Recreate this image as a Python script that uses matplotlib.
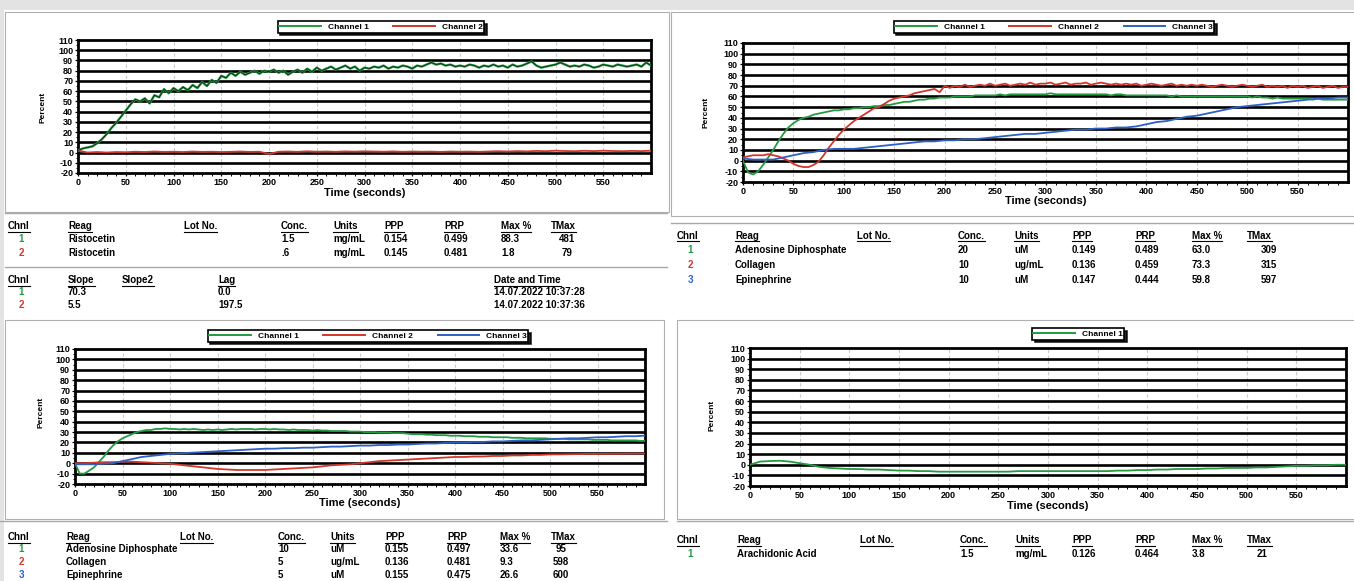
import numpy as np
import matplotlib
matplotlib.use("Agg")
import matplotlib.pyplot as plt
from matplotlib.lines import Line2D
from matplotlib.patches import Rectangle

W, H = 1354, 581

# ---------------- data ----------------
T5 = np.arange(0, 601, 5)
T10 = np.arange(0, 601, 10)

# Panel A (top-left): Ristocetin
a_ch1 = [2, 4, 5, 6, 9, 13, 18, 24, 29, 35, 41, 47, 52, 50, 53, 48, 56, 54, 62, 58, 63,
         60, 64, 61, 66, 63, 69, 65, 71, 68, 75, 73, 78, 75, 79, 76, 78, 80, 77, 80, 79,
         81, 78, 80, 76, 79, 81, 78, 82, 79, 83, 80, 82, 84, 81, 83, 85, 82, 84, 80, 83,
         82, 84, 83, 85, 82, 84, 83, 85, 84, 82, 85, 84, 86, 88, 86, 87, 85, 86, 84, 85,
         84, 86, 85, 83, 85, 84, 86, 84, 85, 83, 86, 84, 85, 87, 89, 85, 83, 84, 85, 86,
         88, 86, 84, 85, 84, 86, 85, 83, 84, 86, 85, 84, 86, 85, 84, 85, 86, 84, 88, 85]
a_ch2 = [2, 0, 0.5, 0, 0.5, 0.3, 0.8, 0.5, 1, 0.6, 0.8,
         0.5, 1, 0.6, 0.8, 0.5, 0.7, 1, 0.6, 0.8, -1.5,
         0.8, 1, 0.7, 1.2, 0.8, 1, 0.7, 1.1, 0.9, 1.2,
         1, 0.8, 1.1, 0.7, 1, 0.8, 0.9, 0.6, 1, 0.8,
         0.9, 0.7, 1, 1.3, 1, 1.4, 1.1, 1.6, 1.3, 1.8,
         1.5, 1.3, 1.7, 1.4, 1.8, 1.5, 1.3, 1.6, 1.4, 1.8]

# Panel B (top-right)
b_ch1 = [0, -11, -13, -10, -4, 3, 10, 18, 25, 31, 35, 38, 40, 41, 43, 44, 45, 46, 47, 47, 48,
         48, 49, 49, 50, 50, 51, 51, 52, 52, 53, 54, 55, 55, 56, 57, 57, 58, 58, 59, 59,
         59, 60, 60, 60, 60, 61, 61, 61, 61, 61, 62, 61, 62, 62, 62, 62, 62, 62, 62, 62,
         63, 62, 62, 62, 62, 62, 62, 62, 62, 62, 62, 62, 61, 62, 62, 61, 61, 61, 61, 61,
         61, 61, 61, 61, 60, 61, 60, 60, 60, 60, 60, 60, 60, 60, 60, 60, 60, 60, 60, 60,
         59, 60, 59, 59, 58, 59, 58, 58, 58, 58, 58, 58, 57, 58, 57, 57, 57, 57, 57, 57]
b_ch2 = [3, 4, 5, 5, 5, 6, 5, 4, 2, 0, -3, -5, -6, -6, -4, -1, 5, 12, 18, 24, 29,
         33, 37, 40, 43, 46, 49, 50, 53, 56, 58, 59, 60, 61, 63, 64, 65, 66, 67, 64, 70,
         68, 70, 69, 71, 69, 70, 71, 70, 72, 70, 71, 72, 70, 71, 72, 71, 73, 71, 72, 72,
         73, 71, 72, 73, 71, 72, 72, 73, 71, 72, 73, 72, 71, 72, 71, 72, 71, 72, 70, 71,
         72, 71, 70, 71, 72, 70, 71, 70, 71, 70, 71, 70, 69, 70, 71, 70, 69, 70, 71, 70,
         69, 70, 71, 69, 70, 69, 70, 68, 70, 69, 70, 68, 69, 70, 68, 69, 70, 68, 69, 69]
b_ch3 = [2, 1, 1, 1, 3, 5, 7, 8, 10, 11, 11,
         11, 12, 13, 14, 15, 16, 17, 18, 18, 19,
         19, 20, 20, 21, 22, 23, 24, 25, 25, 26,
         27, 28, 29, 29, 30, 30, 31, 31, 32, 34,
         36, 37, 39, 41, 42, 44, 46, 48, 50, 51,
         52, 53, 54, 55, 56, 57, 58, 58, 59, 59]

# Panel C (bottom-left)
c_ch1 = [0, -10, -10, -7, -4, 1, 6, 12, 17, 21, 24, 26, 28, 30, 31, 32, 32, 33, 33, 33.6, 33,
         33, 32.5, 33, 32.5, 33, 32.5, 32, 32.5, 32, 32.5, 32, 32.5, 33, 32.5, 33, 33, 33, 32.5, 33, 33,
         32.5, 33, 32.5, 32.5, 32, 32.5, 32, 32, 32, 31.5, 32, 31.5, 31.5, 31, 31, 31, 31, 30.5, 30.5, 30.5,
         30, 30, 30, 29.5, 29.5, 29.5, 29, 29, 29, 28.5, 28, 28, 28, 27.5, 27.5, 27, 27, 27, 26.5, 26.5,
         26.5, 26, 26, 26, 25.5, 25.5, 25.5, 25, 25, 25, 25, 24.5, 24.5, 24.5, 24, 24, 24, 24, 24, 23.5,
         23.5, 23.5, 23.5, 23, 23, 23, 23, 23, 22.5, 22.5, 22.5, 22.5, 22, 22, 22, 22, 22, 22, 21.5, 21.5]
c_ch2 = [0, 0, 0.5, 1, 1, 1.5, 1.5, 1, 0.5, 0, -0.5,
         -1.5, -2.5, -3.5, -4.5, -5.5, -6, -6.5, -6.5, -6.5, -6.5,
         -6, -5.5, -5, -4.5, -4, -3, -2, -1.5, -1, 0,
         1, 2, 2.5, 3, 3.5, 4, 4.5, 5, 5.5, 6,
         6, 6.5, 6.5, 7, 7, 7.5, 7.5, 8, 8, 8.5,
         8.5, 8.7, 8.8, 9, 9, 9.1, 9.1, 9.2, 9.3, 9.3]
c_ch3 = [-1, -1, -1, -0.5, 0, 2, 4, 6, 7, 8, 9,
         9.5, 10, 10.5, 11, 11.5, 12, 12.5, 13, 13.5, 14,
         14, 14.5, 14.5, 15, 15, 15.5, 16, 16, 16.5, 17,
         17, 17.5, 17.5, 18, 18, 18.5, 19, 19, 19.5, 20,
         20, 20.5, 20.5, 21, 21, 21.5, 22, 22, 22.5, 23,
         23.5, 24, 24, 24.5, 25, 25, 25.5, 26, 26, 26.6]

# Panel D (bottom-right)
d_ch1 = [0, 3, 3.5, 3.8, 3, 1.5, 0, -2, -3, -3.5, -4,
         -4, -4.5, -4.5, -5, -5.5, -5.5, -6, -6, -6.5, -6.5,
         -6.5, -6.5, -6.5, -6.5, -6.5, -6.5, -6, -6, -6, -6,
         -6, -6, -6, -6, -6, -6, -5.5, -5.5, -5, -5,
         -4.5, -4.5, -4, -4, -4, -3.5, -3.5, -3, -3, -3,
         -2.5, -2.5, -2, -1.5, -1, -1, -0.5, -0.5, 0, 0]

channel_labels = ["Channel 1", "Channel 2", "Channel 3"]
yticks = list(range(-20, 111, 10))
xticks = list(range(0, 551, 50))

headers = ["Chnl", "Reag", "Lot No.", "Conc.", "Units", "PPP", "PRP", "Max %", "TMax"]

a_chnl = ["1", "2"]
a_reag = ["Ristocetin", "Ristocetin"]
a_conc = ["1.5", ".6"]
a_units = ["mg/mL", "mg/mL"]
a_ppp = ["0.154", "0.145"]
a_prp = ["0.499", "0.481"]
a_max = ["88.3", "1.8"]
a_tmax = ["481", "79"]
a_headers2 = ["Chnl", "Slope", "Slope2", "Lag", "Date and Time"]
a_slope = ["70.3", "5.5"]
a_lag = ["0.0", "197.5"]
a_dt = ["14.07.2022 10:37:28", "14.07.2022 10:37:36"]

b_chnl = ["1", "2", "3"]
b_reag = ["Adenosine Diphosphate", "Collagen", "Epinephrine"]
b_conc = ["20", "10", "10"]
b_units = ["uM", "ug/mL", "uM"]
b_ppp = ["0.149", "0.136", "0.147"]
b_prp = ["0.489", "0.459", "0.444"]
b_max = ["63.0", "73.3", "59.8"]
b_tmax = ["309", "315", "597"]

c_chnl = ["1", "2", "3"]
c_reag = ["Adenosine Diphosphate", "Collagen", "Epinephrine"]
c_conc = ["10", "5", "5"]
c_units = ["uM", "ug/mL", "uM"]
c_ppp = ["0.155", "0.136", "0.155"]
c_prp = ["0.497", "0.481", "0.475"]
c_max = ["33.6", "9.3", "26.6"]
c_tmax = ["95", "598", "600"]

d_chnl = ["1"]
d_reag = ["Arachidonic Acid"]
d_conc = ["1.5"]
d_units = ["mg/mL"]
d_ppp = ["0.126"]
d_prp = ["0.464"]
d_max = ["3.8"]
d_tmax = ["21"]

# ---------------- styling ----------------
GREEN = "#239a40"
RED = "#d0362b"
BLUE = "#2d5fc4"
CH_COLORS = [GREEN, RED, BLUE]
SANS = ["Liberation Sans", "DejaVu Sans"]
TICKFONT = dict(family=SANS, weight="bold", size=6.5)
TABFONT = ["Liberation Sans Narrow", "Liberation Sans", "DejaVu Sans"]

fig = plt.figure(figsize=(W / 100, H / 100), dpi=100)
fig.patch.set_facecolor("white")


def fx(x):
    return x / W


def fy(y):
    return 1 - y / H


def rect(x0, y0, x1, y1, fc="white", ec="#b0b0b0", lw=0.8):
    fig.add_artist(Rectangle((fx(x0), fy(y1)), fx(x1) - fx(x0), fy(y0) - fy(y1),
                             transform=fig.transFigure, facecolor=fc, edgecolor=ec, lw=lw,
                             zorder=-10))


def hline(x0, x1, y, color="#a8a8a8", lw=1.0):
    fig.add_artist(Line2D([fx(x0), fx(x1)], [fy(y), fy(y)], transform=fig.transFigure,
                          color=color, lw=lw, zorder=-9))


# background bands
rect(0, 0, W, 10, fc="#e3e3e3", ec="none")
rect(0, 0, 4, H, fc="#e3e3e3", ec="none")
# chart boxes
rect(5, 12, 669, 212)
rect(671, 12, W + 2, 216)
rect(5, 320, 664, 519)
rect(677, 320, W + 2, 519)
# table separators
hline(5, 667, 213)
hline(5, 667, 267)
hline(671, W, 223)
hline(0, 667, 521)
hline(677, W, 521)


def make_chart(box, series, legend_xy, pct_xy, time_y, noisy=False):
    l, r, t, b = box
    ax = fig.add_axes([fx(l), fy(b), fx(r) - fx(l), fy(t) - fy(b)])
    ax.set_zorder(1)
    ax.set_xlim(0, 600)
    ax.set_ylim(-20, 110)
    for yv in range(-10, 101, 10):
        ax.axhline(yv, color="black", lw=1.9, zorder=1)
    for xv in xticks[1:]:
        ax.axvline(xv, color="#cccccc", lw=0.8, ls=(0, (3, 2)), zorder=0.5)
    handles = []
    for i, (tt, vals) in enumerate(series):
        c = CH_COLORS[i]
        if noisy and i == 0:
            ax.plot(tt, vals, color=c, lw=1.7, zorder=3)
            ax.plot(tt, vals, color="#0f2a12", lw=0.6, zorder=3.5)
        else:
            ax.plot(tt, vals, color=c, lw=1.3, zorder=3)
        handles.append(Line2D([], [], color=c, lw=1.4))
    for s in ax.spines.values():
        s.set_linewidth(2.0)
        s.set_color("black")
    ax.set_yticks(yticks)
    ax.set_yticklabels([str(v) for v in yticks], **TICKFONT)
    ax.set_xticks(xticks)
    ax.set_xticklabels([str(v) for v in xticks], **TICKFONT)
    ax.set_xticks(range(0, 600, 10), minor=True)
    ax.set_yticks(range(-20, 111, 5), minor=True)
    ax.tick_params(which="major", length=2.5, width=0.9, pad=1.0, color="black")
    ax.tick_params(which="minor", length=1.8, width=0.7, color="black")
    leg = ax.legend(handles, channel_labels[:len(series)], loc="center",
                    bbox_to_anchor=(fx(legend_xy[0]), fy(legend_xy[1])),
                    bbox_transform=fig.transFigure, ncol=len(series), frameon=True,
                    fancybox=False, shadow={"color": "black", "alpha": 0.85},
                    edgecolor="black", borderpad=0.2,
                    handlelength=5.0, handletextpad=0.8, columnspacing=3.0,
                    prop=dict(family=SANS, weight="bold", size=6))
    leg.get_frame().set_linewidth(1.2)
    fig.text(fx(pct_xy[0]), fy(pct_xy[1]), "Percent", rotation=90, ha="center", va="center",
             family=SANS, weight="bold", size=6)
    fig.text(fx((l + r) / 2), fy(time_y), "Time (seconds)", ha="center", va="center",
             family=SANS, weight="bold", size=8)
    return ax


make_chart((78, 651, 40, 173), [(T5, a_ch1), (T10, a_ch2)], (381, 27), (43, 107), 193, noisy=True)
make_chart((743, 1348, 43, 182), [(T5, b_ch1), (T5, b_ch2), (T10, b_ch3)], (1054, 27), (706, 112), 201)
make_chart((75, 645, 349, 484), [(T5, c_ch1), (T10, c_ch2), (T10, c_ch3)], (368, 336), (41, 412), 503)
make_chart((750, 1346, 348, 486), [(T10, d_ch1)], (1078, 334), (712, 415), 506)

renderer = fig.canvas.get_renderer()


def ftext(x, y, s, ha="left", color="black", underline=False, size=7):
    t = fig.text(fx(x), fy(y), s, ha=ha, va="center", family=TABFONT, weight="bold",
                 size=size, color=color)
    if underline:
        bb = t.get_window_extent(renderer)
        fig.add_artist(Line2D([bb.x0 / W, bb.x1 / W], [(bb.y0 - 0.5) / H, (bb.y0 - 0.5) / H],
                              transform=fig.transFigure, color=color, lw=0.8))
    return t


def table(xs, chx, y_head, y_rows, cols, tmax_x, tmax_ha, chnl):
    for hx, h in zip(xs, headers):
        ftext(hx, y_head, h, underline=True)
    for ri, yrow in enumerate(y_rows):
        ftext(chx, yrow, chnl[ri], ha="center", color=CH_COLORS[int(chnl[ri]) - 1])
        vals = [c[ri] for c in cols]
        for xpos, v in zip([xs[1], xs[3], xs[4], xs[5], xs[6], xs[7]], vals[:6]):
            ftext(xpos, yrow, v)
        ftext(tmax_x, yrow, vals[6], ha=tmax_ha)


table([8, 68, 184, 281, 333, 384, 444, 501, 551], 21, 226, [239, 253],
      [a_reag, a_conc, a_units, a_ppp, a_prp, a_max, a_tmax], 567, "center", a_chnl)
for hx, h in zip([8, 68, 122, 218, 494], a_headers2):
    ftext(hx, 280, h, underline=True)
for ri, yrow in enumerate([292, 305]):
    ftext(21, yrow, a_chnl[ri], ha="center", color=CH_COLORS[ri])
    ftext(68, yrow, a_slope[ri])
    ftext(218, yrow, a_lag[ri])
    ftext(494, yrow, a_dt[ri])

table([677, 735, 857, 958, 1014, 1072, 1135, 1192, 1247], 690, 236, [250, 265, 280],
      [b_reag, b_conc, b_units, b_ppp, b_prp, b_max, b_tmax], 1277, "right", b_chnl)
table([8, 66, 180, 278, 330, 385, 447, 500, 551], 21, 537, [549, 562, 575],
      [c_reag, c_conc, c_units, c_ppp, c_prp, c_max, c_tmax], 561, "center", c_chnl)
table([677, 737, 860, 960, 1015, 1072, 1135, 1192, 1247], 690, 540, [554],
      [d_reag, d_conc, d_units, d_ppp, d_prp, d_max, d_tmax], 1262, "center", d_chnl)

fig.savefig("out.png", dpi=100, facecolor=fig.get_facecolor())
